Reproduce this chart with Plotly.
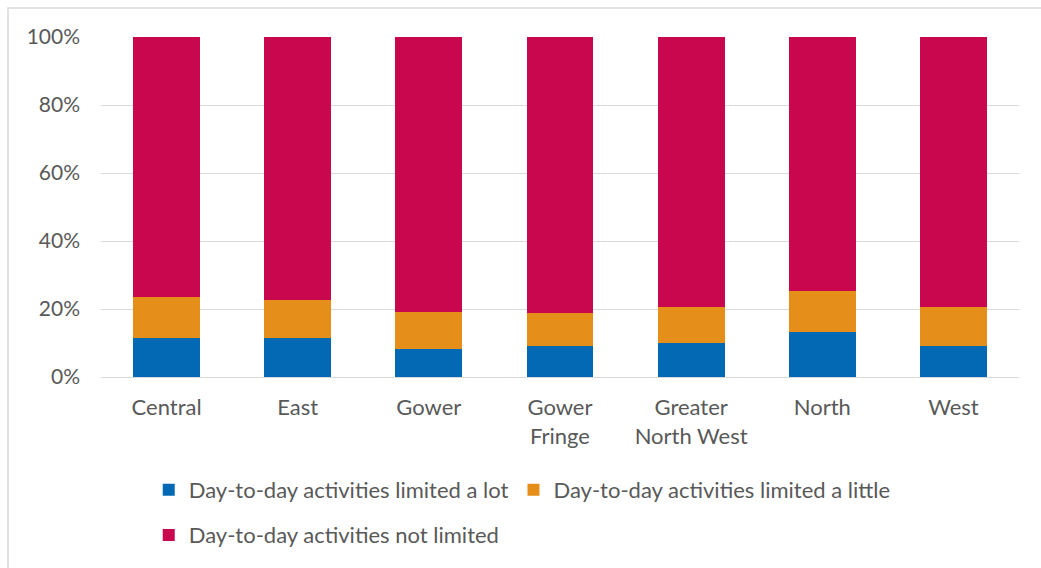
import plotly.graph_objects as go

# Area categories (two-line labels where the name wraps)
areas = ["Central", "East", "Gower", "Gower<br>Fringe", "Greater<br>North West", "North", "West"]

# Share of residents (%) by how much day-to-day activities are limited
limited_lot = [11.5, 11.5, 8.3, 9.2, 10.0, 13.3, 9.2]
limited_little = [11.9, 11.1, 10.7, 9.7, 10.7, 12.0, 11.4]
not_limited = [76.6, 77.4, 81.0, 81.1, 79.3, 74.7, 79.4]

series_names = [
    "Day-to-day activities limited a lot",
    "Day-to-day activities limited a little",
    "Day-to-day activities not limited",
]
series_colors = ["#0469b4", "#e58e1a", "#c8074f"]

tick_vals = [0, 20, 40, 60, 80, 100]
tick_text = ["0%", "20%", "40%", "60%", "80%", "100%"]

FONT = "Lato"
TEXT_COLOR = "#595959"
GRID_COLOR = "#d9d9d9"

fig = go.Figure()
for values, name, color, leg in zip(
    [limited_lot, limited_little, not_limited], series_names, series_colors,
    ["legend", "legend", "legend2"],
):
    fig.add_trace(go.Bar(
        x=areas, y=values, name=name,
        marker=dict(color=color, line=dict(width=0)),
        legend=leg,
    ))

legend_style = dict(
    orientation="h",
    font=dict(family=FONT, size=22, color=TEXT_COLOR),
    xanchor="left", yanchor="middle",
    bgcolor="rgba(0,0,0,0)",
    traceorder="normal",
)

fig.update_layout(
    barmode="stack",
    bargap=0.49,
    width=1041, height=568,
    margin=dict(l=101, r=22, t=37, b=191),
    paper_bgcolor="white",
    plot_bgcolor="white",
    font=dict(family=FONT, size=21, color=TEXT_COLOR),
    legend=dict(x=0.052, y=-0.332, **legend_style),
    legend2=dict(x=0.052, y=-0.465, **legend_style),
    xaxis=dict(
        showgrid=False, showline=False, ticks="",
        tickfont=dict(family=FONT, size=22, color=TEXT_COLOR),
        ticklabelstandoff=15,
    ),
    yaxis=dict(
        range=[0, 100], tickvals=tick_vals, ticktext=tick_text,
        showgrid=True, gridcolor=GRID_COLOR, gridwidth=1,
        zeroline=True, zerolinecolor=GRID_COLOR, zerolinewidth=1,
        showline=False, ticks="",
        tickfont=dict(family=FONT, size=21, color=TEXT_COLOR),
        ticklabelstandoff=20,
    ),
    shapes=[
        # chart frame (top and left edges)
        dict(type="path", xref="paper", yref="paper",
             path="M -0.1013,-0.62 L -0.1013,1.0853 L 1.03,1.0853",
             line=dict(color=GRID_COLOR, width=1.5)),
    ],
)

fig.write_html("out.html")
